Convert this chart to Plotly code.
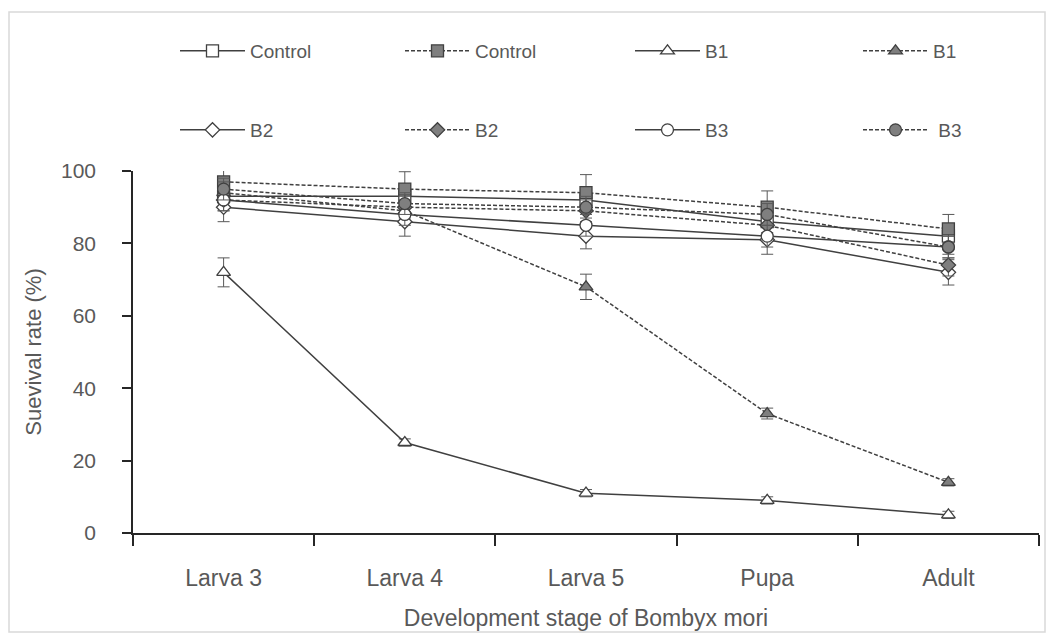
import plotly.graph_objects as go

stages = ["Larva 3", "Larva 4", "Larva 5", "Pupa", "Adult"]

control_open = [93, 93, 92, 86, 82]
control_open_err = [3, 3, 3, 3, 3]
control_fill = [97, 95, 94, 90, 84]
control_fill_err = [3.3, 4.8, 5, 4.5, 4]
b1_open = [72, 25, 11, 9, 5]
b1_open_err = [4, 1, 1, 1, 1]
b1_fill = [94, 89, 68, 33, 14]
b1_fill_err = [3, 3, 3.5, 1.5, 1]
b2_open = [90, 86, 82, 81, 72]
b2_open_err = [4, 4, 3.5, 4, 3.5]
b2_fill = [92, 90, 89, 85, 74]
b2_fill_err = [3, 3, 3, 3, 3]
b3_open = [92, 88, 85, 82, 79]
b3_open_err = [3, 3, 3, 3, 3]
b3_fill = [95, 91, 90, 88, 79]
b3_fill_err = [3, 3, 3, 3, 3]

# The page body adds an 8px offset; the figure is sized so it ends where the
# reference chart's frame ends.
OFF = 8
W, H = 1038, 625
L, R, T, B = 125, 7, 163, 100
FONT = "Liberation Sans, Arial, sans-serif"
TXT = "#595959"
LINE = "#404040"
FILL = "#7f7f7f"

series = [
    ("Control", control_open, control_open_err, "square", 12, "white", "solid"),
    ("Control", control_fill, control_fill_err, "square", 12, FILL, "dash"),
    ("B1", b1_open, b1_open_err, "triangle-up", 12, "white", "solid"),
    ("B1", b1_fill, b1_fill_err, "triangle-up", 12, FILL, "dash"),
    ("B2", b2_open, b2_open_err, "diamond", 11, "white", "solid"),
    ("B2", b2_fill, b2_fill_err, "diamond", 11, FILL, "dash"),
    ("B3", b3_open, b3_open_err, "circle", 12, "white", "solid"),
    (" B3", b3_fill, b3_fill_err, "circle", 12, FILL, "dash"),
]

# legend slot for each series: line start x and row centre y (screen px)
col_x = [180, 405, 635, 863]
row_y = [51, 130]

fig = go.Figure()
legends = {}
for i, (name, ys, errs, sym, size, fc, dash) in enumerate(series):
    lg = "legend" if i == 0 else f"legend{i + 1}"
    fig.add_trace(go.Scatter(
        x=stages, y=ys, name=name, mode="lines+markers",
        line=dict(color=LINE, width=1.5, dash=("4px,2px" if dash == "dash" else "solid")),
        marker=dict(symbol=sym, size=size, color=fc, line=dict(color=LINE, width=1.3)),
        error_y=dict(type="data", array=errs, visible=True, color="#595959", thickness=1, width=6),
        legend=lg,
    ))
    cx = col_x[i % 4] - OFF - 5
    ry = row_y[i // 4] - OFF
    legends[lg] = dict(
        orientation="h", xref="container", yref="container", xanchor="left",
        yanchor="middle", x=cx / W, y=1 - ry / H, itemwidth=65,
        font=dict(family=FONT, size=19, color=TXT), bgcolor="rgba(0,0,0,0)",
    )

fig.update_layout(
    width=W, height=H,
    margin=dict(l=L, r=R, t=T, b=B, autoexpand=False),
    paper_bgcolor="white", plot_bgcolor="white",
    font=dict(family=FONT, size=21, color=TXT),
    showlegend=True,
    xaxis=dict(
        type="category", range=[-0.5, 4.5], tickson="boundaries",
        showline=True, linecolor="#262626", linewidth=1.5,
        ticks="outside", ticklen=11, tickcolor="#262626", tickwidth=1.5,
        showgrid=False, zeroline=False, ticklabelstandoff=24,
        tickfont=dict(family=FONT, size=23, color=TXT),
        title=dict(text="Development stage of Bombyx mori", standoff=20,
                   font=dict(family=FONT, size=23, color=TXT)),
    ),
    yaxis=dict(
        range=[0, 100], dtick=20, showline=True, linecolor="#262626", linewidth=1.5,
        ticks="outside", ticklen=9, tickcolor="#262626", tickwidth=1.5,
        showgrid=False, zeroline=False, ticklabelstandoff=22,
        tickfont=dict(family=FONT, size=21, color=TXT),
        title=dict(text="Suevival rate (%)", standoff=13,
                   font=dict(family=FONT, size=22, color=TXT)),
    ),
    **legends,
)

pw = W - L - R
ph = H - T - B
fig.add_shape(type="rect", xref="paper", yref="paper",
              x0=(1 - L) / pw, x1=(W - 1 - L) / pw,
              y0=(H - B - (H - 1)) / ph, y1=(H - B - 4) / ph,
              line=dict(color="#d9d9d9", width=1.5), fillcolor="rgba(0,0,0,0)", layer="below")

fig.write_html("out.html")
